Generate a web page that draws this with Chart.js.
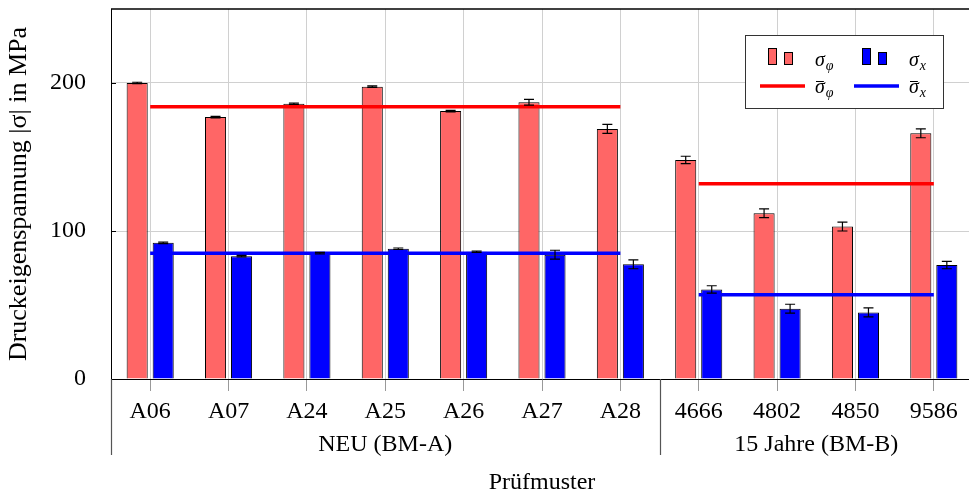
<!DOCTYPE html>
<html>
<head>
	<meta charset="utf-8" />
	<title>Druckeigenspannung je Prüfmuster</title>
	<script src="https://cdn.jsdelivr.net/npm/chart.js@4.4.1/dist/chart.umd.min.js"></script>
	<style>
		html, body { margin: 0; padding: 0; overflow: hidden; background: #fff; }
		#wrap { position: relative; width: 975px; height: 492px; }
	</style>
</head>
<body>

<div id="wrap"><canvas id="stressChart"></canvas></div>

<script>
// Pruefmuster on the x axis
var labels = ['A06', 'A07', 'A24', 'A25', 'A26', 'A27', 'A28', '4666', '4802', '4850', '9586']

// sigma_phi bars (MPa) and their +/- error
var sigmaPhi    = [200, 177, 186, 197.5, 181, 187, 169, 148, 112, 103, 166]
var sigmaPhiErr = [0.5, 0.5, 0.5, 0.5, 0.5, 2, 3, 2.5, 3, 3, 3]

// sigma_x bars (MPa) and their +/- error
var sigmaX    = [92, 83, 85, 88, 86, 84, 77.5, 60.5, 47.5, 45, 77]
var sigmaXErr = [0.5, 0.5, 0.5, 0.5, 0.5, 3, 3, 2.5, 3, 3, 2.5]

// sample groups and the mean value of each group
var groupNames = ['NEU (BM-A)', '15 Jahre (BM-B)']
var groupFirst = [0, 7]
var groupLast  = [6, 10]
var meanPhi = [184, 132]
var meanX   = [85, 57]

var yTicks = [0, 100, 200]
var yMax = 250

var serif = 'Liberation Serif'
var redBar = '#ff6666', blueBar = '#0000ff'
var redLine = '#ff0000', blueLine = '#0000ff'

// one line per group, null outside the group so the segments stay apart
function meanSeries(means, g) {
	var out = []
	for (var i = 0; i < labels.length; i++) {
		out.push(i >= groupFirst[g] && i <= groupLast[g] ? means[g] : null)
	}
	return out
}

function meanDataset(means, g, colour) {
	return {
		type: 'line',
		data: meanSeries(means, g),
		borderColor: colour,
		backgroundColor: colour,
		borderWidth: 3.5,
		pointRadius: 0,
		fill: false,
		spanGaps: false,
		order: 0
	}
}

var errorBars = {
	id: 'errorBars',
	afterDatasetsDraw: function(chart) {
		var ctx = chart.ctx, ys = chart.scales.y
		var sets = [[0, sigmaPhi, sigmaPhiErr], [1, sigmaX, sigmaXErr]]
		ctx.save()
		ctx.strokeStyle = '#000'
		ctx.lineWidth = 1.2
		sets.forEach(function(s) {
			chart.getDatasetMeta(s[0]).data.forEach(function(bar, i) {
				var top = ys.getPixelForValue(s[1][i] + s[2][i])
				var bot = ys.getPixelForValue(s[1][i] - s[2][i])
				ctx.beginPath()
				ctx.moveTo(bar.x, top); ctx.lineTo(bar.x, bot)
				ctx.moveTo(bar.x - 5, top); ctx.lineTo(bar.x + 5, top)
				ctx.moveTo(bar.x - 5, bot); ctx.lineTo(bar.x + 5, bot)
				ctx.stroke()
			})
		})
		ctx.restore()
	}
}

// frame, inner y ticks, group labels and the boxed legend
var frame = {
	id: 'frame',
	afterDraw: function(chart) {
		var ctx = chart.ctx, a = chart.chartArea
		var xs = chart.scales.x, ys = chart.scales.y
		ctx.save()

		ctx.strokeStyle = '#000'
		ctx.lineWidth = 1.5
		ctx.beginPath()
		ctx.moveTo(a.left, a.top); ctx.lineTo(a.right, a.top)
		ctx.stroke()

		ctx.lineWidth = 1
		yTicks.forEach(function(v) {
			var py = Math.round(ys.getPixelForValue(v)) + 0.5
			ctx.beginPath()
			ctx.moveTo(a.left, py); ctx.lineTo(a.left + 5, py)
			ctx.stroke()
		})

		// group separators and names under the tick labels
		ctx.font = '24px "' + serif + '"'
		ctx.fillStyle = '#000'
		ctx.textAlign = 'center'
		ctx.textBaseline = 'middle'
		for (var g = 0; g < groupNames.length; g++) {
			var p0 = xs.getPixelForValue(groupFirst[g])
			var p1 = xs.getPixelForValue(groupLast[g])
			var sep = g === 0 ? a.left : (xs.getPixelForValue(groupLast[g - 1]) + p0) / 2
			sep = Math.round(sep) + 0.5
			ctx.strokeStyle = '#555'
			ctx.lineWidth = 1.2
			ctx.beginPath()
			ctx.moveTo(sep, xs.top); ctx.lineTo(sep, xs.top + 76)
			ctx.stroke()
			ctx.fillText(groupNames[g], (p0 + p1) / 2, xs.top + 66)
		}

		// legend
		var lx = a.right - 228, ly = a.top + 26
		ctx.fillStyle = '#fff'
		ctx.fillRect(lx, ly, 198, 73)
		ctx.strokeStyle = '#333'
		ctx.lineWidth = 1
		ctx.strokeRect(lx + 0.5, ly + 0.5, 198, 73)

		var items = [[redBar, redLine, '\u03c6'], [blueBar, blueLine, 'x']]
		ctx.textAlign = 'left'
		ctx.textBaseline = 'alphabetic'
		items.forEach(function(it, c) {
			var cx = lx + c * 94
			ctx.fillStyle = it[0]
			ctx.strokeStyle = '#000'
			ctx.lineWidth = 1
			ctx.fillRect(cx + 23, ly + 13, 8, 16)
			ctx.strokeRect(cx + 23.5, ly + 13.5, 8, 16)
			ctx.fillRect(cx + 39, ly + 17, 8, 12)
			ctx.strokeRect(cx + 39.5, ly + 17.5, 8, 12)

			ctx.strokeStyle = it[1]
			ctx.lineWidth = 3.5
			ctx.beginPath()
			ctx.moveTo(cx + 15, ly + 51); ctx.lineTo(cx + 60, ly + 51)
			ctx.stroke()

			ctx.fillStyle = '#000'
			ctx.font = 'italic 20px "' + serif + '"'
			var w = ctx.measureText('\u03c3').width
			ctx.fillText('\u03c3', cx + 70, ly + 31)
			ctx.fillText('\u03c3', cx + 70, ly + 58)
			ctx.font = 'italic 14px "' + serif + '"'
			ctx.fillText(it[2], cx + 71 + w, ly + 35)
			ctx.fillText(it[2], cx + 71 + w, ly + 62)
			// bar over the mean symbol
			ctx.strokeStyle = '#000'
			ctx.lineWidth = 1
			ctx.beginPath()
			ctx.moveTo(cx + 71, ly + 46.5); ctx.lineTo(cx + 69 + w, ly + 46.5)
			ctx.stroke()
		})

		ctx.restore()
	}
}

new Chart('stressChart', {
	type: 'bar',
	data: {
		labels: labels,
		datasets: [
			{
				label: '\u03c3\u03c6',
				data: sigmaPhi,
				backgroundColor: redBar,
				borderColor: '#000',
				borderWidth: 1,
				categoryPercentage: 0.664,
				barPercentage: 0.81,
				order: 1
			},
			{
				label: '\u03c3x',
				data: sigmaX,
				backgroundColor: blueBar,
				borderColor: '#000',
				borderWidth: 1,
				categoryPercentage: 0.664,
				barPercentage: 0.81,
				order: 1
			},
			meanDataset(meanPhi, 0, redLine),
			meanDataset(meanPhi, 1, redLine),
			meanDataset(meanX, 0, blueLine),
			meanDataset(meanX, 1, blueLine)
		]
	},
	options: {
		responsive: true,
		maintainAspectRatio: false,
		animation: false,
		layout: { padding: { top: 9, right: 2, left: 0, bottom: 0 } },
		plugins: { legend: { display: false }, tooltip: { enabled: false } },
		scales: {
			x: {
				afterFit: function(s) { s.height = 113; s.paddingLeft = 0; s.paddingRight = 0 },
				ticks: { color: '#000', padding: 6, maxRotation: 0, autoSkip: false,
					font: { family: serif, size: 24 } },
				grid: { offset: false, color: '#d0d0d0', tickColor: '#999', tickLength: 12 },
				border: { color: '#000', width: 1 },
				title: { display: true, text: 'Prüfmuster', color: '#000', padding: 0,
					font: { family: serif, size: 24, lineHeight: 0.8 } }
			},
			y: {
				min: 0,
				max: yMax,
				afterBuildTicks: function(s) { s.ticks = yTicks.map(function(v) { return { value: v } }) },
				afterFit: function(s) { s.width = 111; s.paddingTop = 0; s.paddingBottom = 0 },
				ticks: { color: '#000', padding: 25, font: { family: serif, size: 24 } },
				grid: { drawTicks: false,
					color: function(c) { return c.tick && c.tick.value === 0 ? 'rgba(0,0,0,0)' : '#d0d0d0' } },
				border: { color: '#000', width: 1 },
				title: { display: true, text: 'Druckeigenspannung |\u03c3| in MPa', color: '#000',
					padding: { top: 4, bottom: 0 }, font: { family: serif, size: 26 } }
			}
		}
	},
	plugins: [errorBars, frame]
})
</script>

</body>
</html>
